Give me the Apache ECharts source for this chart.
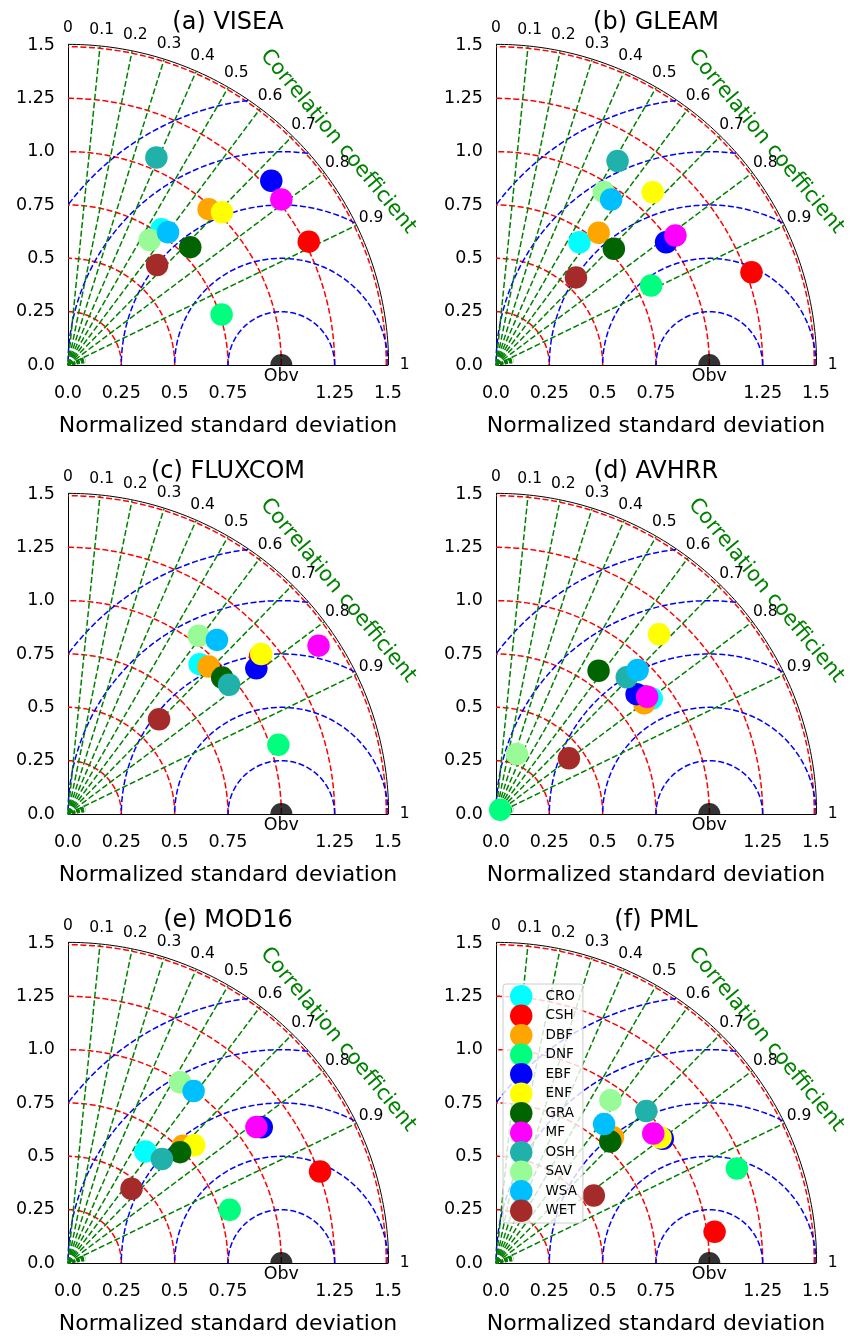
<!DOCTYPE html>
<html><head><meta charset="utf-8">
<script src="https://cdn.jsdelivr.net/npm/echarts@6.0.0/dist/echarts.min.js"></script>
<style>html,body{margin:0;padding:0;background:#fff}#c{width:850px;height:1337px}</style>
</head><body><div id="c"></div>
<script>
// ---------- data ----------
const categories = ['CRO','CSH','DBF','DNF','EBF','ENF','GRA','MF','OSH','SAV','WSA','WET'];
const colors = ['#00FFFF','#FF0000','#FFA500','#00FF7F','#0000FF','#FFFF00','#006400','#FF00FF','#20B2AA','#98FB98','#00BFFF','#A52A2A'];
const panelTitles = ['(a) VISEA','(b) GLEAM','(c) FLUXCOM','(d) AVHRR','(e) MOD16','(f) PML'];

// normalized standard deviation and correlation coefficient per category
const stdVISEA   = [0.772, 1.268, 0.984, 0.758, 1.286, 1.017, 0.796, 1.266, 1.057, 0.700, 0.779, 0.628];
const corrVISEA  = [0.567, 0.890, 0.670, 0.950, 0.741, 0.710, 0.720, 0.790, 0.392, 0.547, 0.602, 0.665];
const stdGLEAM   = [0.696, 1.274, 0.785, 0.817, 0.983, 1.093, 0.776, 1.037, 1.113, 0.955, 0.945, 0.556];
const corrGLEAM  = [0.562, 0.940, 0.613, 0.890, 0.811, 0.672, 0.712, 0.811, 0.512, 0.529, 0.571, 0.674];
const stdFLUXCOM = [0.935, 1.165, 0.955, 1.038, 1.116, 1.176, 0.965, 1.415, 0.968, 1.036, 1.074, 0.616];
const corrFLUXCOM= [0.660, 0.773, 0.690, 0.950, 0.791, 0.770, 0.749, 0.830, 0.780, 0.591, 0.650, 0.693];
const stdAVHRR   = [0.909, 0.890, 0.867, 0.028, 0.866, 1.137, 0.826, 0.897, 0.887, 0.298, 0.947, 0.430];
const corrAVHRR  = [0.803, 0.786, 0.801, 0.707, 0.761, 0.672, 0.582, 0.790, 0.691, 0.329, 0.701, 0.795];
const stdMOD16   = [0.636, 1.257, 0.770, 0.798, 1.109, 0.809, 0.739, 1.089, 0.657, 0.997, 0.998, 0.458];
const corrMOD16  = [0.570, 0.940, 0.700, 0.950, 0.819, 0.731, 0.711, 0.811, 0.670, 0.527, 0.590, 0.650];
const stdPML     = [0.796, 1.035, 0.805, 1.213, 0.975, 0.970, 0.782, 0.955, 1.002, 0.933, 0.825, 0.557];
const corrPML    = [0.678, 0.990, 0.681, 0.931, 0.802, 0.795, 0.685, 0.772, 0.703, 0.575, 0.614, 0.823];

const xTickLabels = ['0.0','0.25','0.5','0.75','','1.25','1.5'];
const yTickLabels = ['0.0','0.25','0.5','0.75','1.0','1.25','1.5'];
const corrTicks = [0, 0.1, 0.2, 0.3, 0.4, 0.5, 0.6, 0.7, 0.8, 0.9, 1];
const corrLines = [0.1, 0.2, 0.3, 0.4, 0.5, 0.6, 0.7, 0.8, 0.9];
const corrMinorLines = [0.91, 0.92, 0.93, 0.94, 0.95, 0.96, 0.97, 0.98, 0.99];
const stdArcs = [0.25, 0.5, 0.75, 1.0, 1.25, 1.492];
const rmsArcs = [0.25, 0.5, 0.75, 1.0, 1.25];
const obvPoint = [1, 0];

const panelStd = [stdVISEA, stdGLEAM, stdFLUXCOM, stdAVHRR, stdMOD16, stdPML];
const panelCorr = [corrVISEA, corrGLEAM, corrFLUXCOM, corrAVHRR, corrMOD16, corrPML];

// ---------- layout ----------
const FONT = 'DejaVu Sans';
const colLeft = [68, 496];
const rowTop = [45, 494, 943];
const SIZE = 320;
const RMAX = 1.5;
const DASH = [6, 2.6];
const LW = 1.5;

function polar(r, c) { return [r * c, r * Math.sqrt(Math.max(0, 1 - c * c))]; }
function arc(cx, r, t0, t1) {
  const pts = [], n = 120;
  for (let k = 0; k <= n; k++) { const t = t0 + (t1 - t0) * k / n; pts.push([cx + r * Math.cos(t), r * Math.sin(t)]); }
  return pts;
}

const grids = [], xAxes = [], yAxes = [], series = [], graphics = [];
for (let i = 0; i < 6; i++) {
  const left = colLeft[i % 2], top = rowTop[Math.floor(i / 2)];
  grids.push({ left: left, top: top, width: SIZE, height: SIZE, outerBoundsMode: 'none', containLabel: false });
  xAxes.push({
    gridIndex: i, type: 'value', min: 0, max: RMAX, interval: 0.25,
    axisLine: { show: true, onZero: false, lineStyle: { color: '#000', width: 1 } },
    axisTick: { show: false }, splitLine: { show: false },
    axisLabel: { show: true, showMinLabel: true, showMaxLabel: true, hideOverlap: false, margin: 19, fontSize: 17.5, color: '#000', fontFamily: FONT,
      formatter: v => xTickLabels[Math.round(v / 0.25)] },
    name: 'Normalized standard deviation', nameLocation: 'middle', nameGap: 50,
    nameTextStyle: { fontSize: 22, color: '#000', fontFamily: FONT }
  });
  yAxes.push({
    gridIndex: i, type: 'value', min: 0, max: RMAX, interval: 0.25,
    axisLine: { show: true, onZero: false, lineStyle: { color: '#000', width: 1 } },
    axisTick: { show: false }, splitLine: { show: false },
    axisLabel: { show: true, showMinLabel: true, showMaxLabel: true, hideOverlap: false, margin: 13, fontSize: 17.5, color: '#000', fontFamily: FONT,
      formatter: v => yTickLabels[Math.round(v / 0.25)] }
  });
  graphics.push({ type: 'text', x: left + SIZE / 2, y: top - 22.5, z: 10,
    style: { text: panelTitles[i], fontSize: 24, fontFamily: FONT, fill: '#000', textAlign: 'center', textVerticalAlign: 'middle' } });

  const base = { xAxisIndex: i, yAxisIndex: i, silent: true, animation: false, clip: false };
  const lineBase = Object.assign({}, base, { type: 'line', symbol: 'none', showSymbol: false, z: 2 });
  // std arcs (red)
  stdArcs.forEach(r => series.push(Object.assign({}, lineBase, {
    data: arc(0, r, 0, Math.PI / 2), lineStyle: { color: '#FF0000', width: LW, type: DASH } })));
  // rms arcs (blue), centred on the observation
  rmsArcs.forEach(r => {
    const t0 = Math.acos(Math.min(1, (RMAX * RMAX - 1 - r * r) / (2 * r)));
    const t1 = Math.acos(Math.max(-1, -1 / r));
    series.push(Object.assign({}, lineBase, {
      data: arc(1, r, t0, t1), lineStyle: { color: '#0000FF', width: LW, type: DASH } }));
  });
  // correlation rays (green)
  corrLines.forEach(c => series.push(Object.assign({}, lineBase, {
    data: [[0, 0], polar(RMAX, c)], lineStyle: { color: '#008000', width: LW, type: DASH } })));
  corrMinorLines.forEach(c => series.push(Object.assign({}, lineBase, {
    data: [[0, 0], polar(0.085, c)], lineStyle: { color: '#008000', width: LW, type: [3, 1.5] } })));
  // outer boundary
  series.push(Object.assign({}, lineBase, { data: arc(0, 1.503, 0, Math.PI / 2), lineStyle: { color: '#000', width: 1, type: 'solid' } }));
  // observation point
  series.push(Object.assign({}, base, {
    type: 'scatter', z: 4, data: [obvPoint],
    symbol: 'path://M0,10 A10,10 0 0 1 20,10 Z', symbolSize: [22, 11], symbolOffset: [0, -5.5],
    itemStyle: { color: '#000' }
  }));
  // category markers
  categories.forEach((name, k) => series.push(Object.assign({}, base, {
    type: 'scatter', name: name, z: 5, symbol: 'circle', symbolSize: 22.5,
    itemStyle: { color: colors[k], opacity: 1 },
    data: [polar(panelStd[i][k], panelCorr[i][k])]
  })));
}

const chart = echarts.init(document.getElementById('c'), null, { renderer: 'canvas' });
chart.setOption({
  backgroundColor: '#fff',
  animation: false,
  grid: grids, xAxis: xAxes, yAxis: yAxes, series: series, graphic: graphics,
  legend: {
    orient: 'vertical', left: 503, top: 984, data: categories, selectedMode: false,
    itemWidth: 22.5, itemHeight: 22.5, itemGap: -3, icon: 'circle',
    textStyle: { fontSize: 13.5, color: '#000', fontFamily: FONT, padding: [0, 0, 0, 8] },
    backgroundColor: 'rgba(255,255,255,0.8)', borderColor: '#cccccc', borderWidth: 1, borderRadius: 3,
    padding: [1, 6, 1, 7], z: 8
  }
});

// text placed through the axes' own scales
const ccAngle = 39.6 * Math.PI / 180;
const ccPos = polar(1.643, Math.cos(ccAngle));
const allGraphics = graphics.slice();
for (let i = 0; i < 6; i++) {
  const px = v => chart.convertToPixel({ gridIndex: i }, v);
  const p = px(ccPos);
  allGraphics.push({ type: 'text', x: p[0], y: p[1], rotation: -(Math.PI / 2 - ccAngle), z: 10,
    style: { text: 'Correlation coefficient', fontSize: 21, fontFamily: FONT, fill: '#008000', textAlign: 'center', textVerticalAlign: 'middle' } });
  corrTicks.forEach(c => {
    const q = px(polar(1.578, c));
    allGraphics.push({ type: 'text', x: q[0], y: q[1], z: 10,
      style: { text: String(c), fontSize: 15.5, fontFamily: FONT, fill: '#000', textAlign: 'center', textVerticalAlign: 'middle' } });
  });
  const o = px(obvPoint);
  allGraphics.push({ type: 'text', x: o[0], y: o[1] + 11, z: 10,
    style: { text: 'Obv', fontSize: 17.5, fontFamily: FONT, fill: '#000', textAlign: 'center', textVerticalAlign: 'middle' } });
}
chart.setOption({ graphic: allGraphics });
</script></body></html>
